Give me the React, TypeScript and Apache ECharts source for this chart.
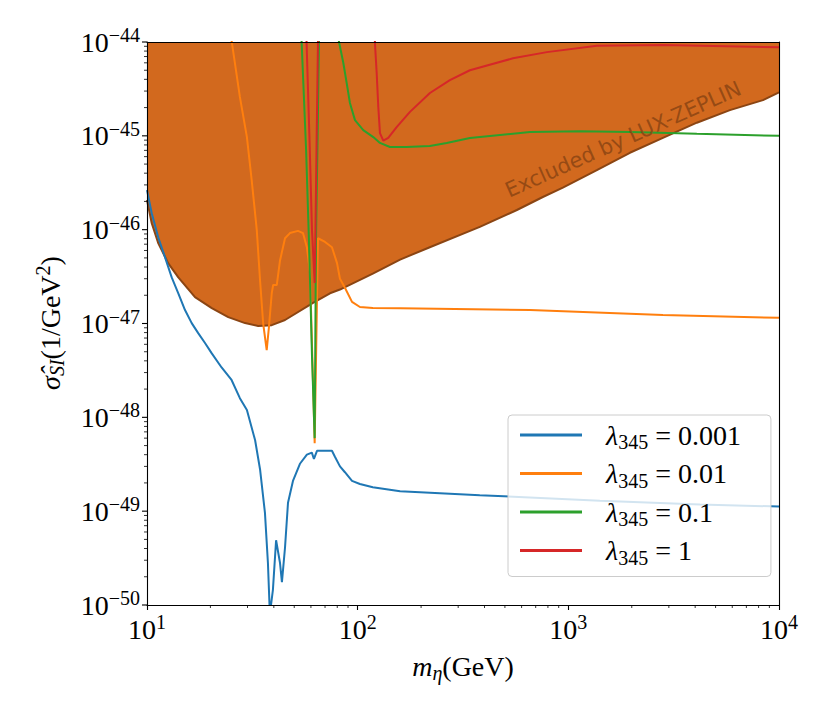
import React, { useEffect, useRef } from 'react';
import * as echarts from 'echarts';

// ---- data ----
const massBlue = [10, 10.53, 11.3, 12.17, 13.1, 14.08, 15.15, 16.3, 17.5, 18.85, 20.3, 22.6, 25.2, 27.6, 29.8, 32.6, 34.4, 36.3, 37.5, 38.3, 39.6, 41.0, 42.8, 43.7, 45.2, 46.7, 49.3, 53.2, 57.4, 60.6, 62.0, 64.1, 75.5, 78.0, 82.4, 87.0, 94.0, 102.5, 118, 159, 380, 1412, 4217, 10000];
const sigmaBlue = [2.64e-46, 1.5e-46, 8.3e-47, 5.1e-47, 3.1e-47, 2.1e-47, 1.39e-47, 1.01e-47, 7.9e-48, 6.2e-48, 4.8e-48, 3.4e-48, 2.5e-48, 1.6e-48, 1.2e-48, 5.7e-49, 2.8e-49, 9.6e-50, 2.8e-50, 8e-51, 1.45e-50, 4.9e-50, 2.8e-50, 1.75e-50, 4.1e-50, 1.23e-49, 2.1e-49, 3.2e-49, 4.0e-49, 4.2e-49, 3.6e-49, 4.4e-49, 4.4e-49, 3.8e-49, 3.0e-49, 2.6e-49, 2.1e-49, 1.95e-49, 1.8e-49, 1.63e-49, 1.48e-49, 1.29e-49, 1.18e-49, 1.12e-49];

const massOrange = [24.5, 25.3, 27.6, 29.8, 31.4, 33.2, 34.4, 35.6, 37.0, 37.9, 39.1, 39.7, 41.3, 42.8, 45.2, 47.7, 52.1, 55.0, 57.4, 59.4, 62.5, 64.8, 70.0, 75.5, 79.8, 82.4, 87.0, 94.0, 102.5, 118, 159, 658, 2812, 10000];
const sigmaOrange = [1.5e-44, 9.8e-45, 2.6e-45, 9.7e-46, 3.38e-46, 9.9e-47, 2.9e-47, 1.0e-47, 5.2e-48, 9.1e-48, 2.1e-47, 2.57e-47, 2.57e-47, 4.7e-47, 8.1e-47, 9.2e-47, 9.7e-47, 9.2e-47, 6.5e-47, 3.5e-47, 5.3e-49, 8.1e-47, 7.4e-47, 6.5e-47, 4.4e-47, 3.0e-47, 2.4e-47, 1.7e-47, 1.5e-47, 1.46e-47, 1.45e-47, 1.39e-47, 1.23e-47, 1.15e-47];

const massGreen = [53.5, 54.2, 56.9, 58.7, 60.7, 62.5, 63.4, 64.5, 65.5, 70, 79.1, 81.8, 85.5, 88.7, 91.9, 97.1, 106.3, 118.6, 127.6, 142.3, 170.8, 220, 264.6, 341, 658, 1135, 1960, 4074, 10000];
const sigmaGreen = [2e-44, 1e-44, 7.2e-46, 7.8e-47, 4.5e-48, 6e-49, 7.8e-47, 9.0e-46, 1e-44, 1e-42, 1.41e-44, 9.7e-45, 5.97e-45, 3.65e-45, 2.24e-45, 1.47e-45, 1.15e-45, 9.7e-46, 8.4e-46, 7.6e-46, 7.6e-46, 7.8e-46, 8.4e-46, 9.5e-46, 1.1e-45, 1.12e-45, 1.1e-45, 1.05e-45, 1.0e-45];

const massRed = [56.5, 57.2, 59.0, 60.7, 62.5, 63.05, 63.9, 64.8, 70, 119.5, 120.8, 123.1, 125.3, 127.6, 132.3, 139.7, 153.1, 177.1, 220.3, 274, 341, 546, 791, 1366, 2812, 10000];
const sigmaRed = [2e-44, 1e-44, 1e-45, 9.9e-47, 2.7e-47, 9.9e-47, 1e-45, 1e-44, 1e-42, 2e-44, 9.7e-45, 4.68e-45, 2.03e-45, 1.07e-45, 8.87e-46, 9.5e-46, 1.24e-45, 1.8e-45, 2.86e-45, 3.93e-45, 5.0e-45, 6.7e-45, 7.8e-45, 9.1e-45, 9.3e-45, 8.8e-45];

const massLZ = [10, 10.53, 11.3, 12.6, 14.08, 16.9, 20.3, 24.3, 29.2, 33.7, 39.1, 45.2, 61.4, 73.9, 82.4, 118, 159, 220, 380, 570, 757, 942, 1366, 1960, 2812, 4074, 5848, 8395, 10000];
const sigmaLZ = [2.07e-46, 1.17e-46, 7.2e-47, 4.4e-47, 3.1e-47, 1.91e-47, 1.46e-47, 1.17e-47, 1.01e-47, 9.4e-48, 9.6e-48, 1.09e-47, 1.66e-47, 2.1e-47, 2.3e-47, 3.4e-47, 4.8e-47, 6.5e-47, 1.07e-46, 1.62e-46, 2.23e-46, 2.8e-46, 4.3e-46, 6.6e-46, 9.5e-46, 1.38e-45, 1.88e-45, 2.4e-45, 2.9e-45];

const lambdaLabels = ['0.001', '0.01', '0.1', '1'];
const seriesColors = ['#1f77b4', '#ff7f0e', '#2ca02c', '#d62728'];
const xMin = 10;
const xMax = 10000;
const yMin = 1e-50;
const yMax = 1e-44;
const xTickValues = [10, 100, 1000, 10000];
const yTickValues = [1e-50, 1e-49, 1e-48, 1e-47, 1e-46, 1e-45, 1e-44];
const minorMultipliers = [2, 3, 4, 5, 6, 7, 8, 9];
const xDecades = [10, 100, 1000];
const yDecades = [1e-50, 1e-49, 1e-48, 1e-47, 1e-46, 1e-45];
const lzLabel = 'Excluded by LUX-ZEPLIN';

const SERIF = "'Liberation Serif', 'DejaVu Serif', serif";

export default function App() {
  const ref = useRef<HTMLDivElement>(null);
  useEffect(() => {
    document.body.style.margin = '0';
    const chart = echarts.init(ref.current as HTMLDivElement, null, { renderer: 'svg' });
    const zip = (xs: number[], ys: number[]) => xs.map((x, i) => [x, ys[i]]);
    const names = lambdaLabels.map((l) => 'λ345 = ' + l);
    const supFmt = (v: number) => {
      const e = Math.round(Math.log10(v));
      return `{b|10}{e|${e < 0 ? '\u2212' : ''}${Math.abs(e)}}`;
    };
    const tickRich = {
      b: { fontSize: 28, fontFamily: SERIF, lineHeight: 34, color: '#000' },
      e: { fontSize: 20, fontFamily: SERIF, verticalAlign: 'top', color: '#000' },
    };
    const tickRichFill = {
      b: { fontSize: 28, fontFamily: SERIF, lineHeight: 34, fill: '#000' },
      e: { fontSize: 20, fontFamily: SERIF, verticalAlign: 'top', fill: '#000' },
    };
    const xMinor: number[][] = [];
    xDecades.forEach((d) => minorMultipliers.forEach((m) => xMinor.push([d * m, yMin])));
    const yMinor: number[][] = [];
    yDecades.forEach((d) => minorMultipliers.forEach((m) => yMinor.push([xMin, d * m])));
    const yMajor = yTickValues.map((v) => [xMin, v]);
    const lzPoints = zip(massLZ, sigmaLZ);

    const lineData = [
      zip(massBlue, sigmaBlue),
      zip(massOrange, sigmaOrange),
      zip(massGreen, sigmaGreen),
      zip(massRed, sigmaRed),
    ];

    const axisLineStyle = { color: '#000', width: 1.1 };

    const option: any = {
      animation: false,
      grid: { left: 147, right: 51, top: 42, bottom: 107, containLabel: false, outerBoundsMode: 'none' },
      xAxis: [
        {
          type: 'log', logBase: 10, min: xMin, max: xMax, splitNumber: 3, z: 10,
          axisLine: { show: true, onZero: false, lineStyle: axisLineStyle },
          axisTick: { show: true, inside: false, length: 5, customValues: xTickValues, lineStyle: { color: '#000', width: 1.1 } },
          minorTick: { show: false },
          splitLine: { show: false },
          axisLabel: { formatter: supFmt, rich: tickRich, margin: 7, customValues: xTickValues },
          name: '{m|m}{sub|η}{t|(GeV)}',
          nameLocation: 'middle',
          nameGap: 44,
          nameTextStyle: {
            rich: {
              m: { fontSize: 28, fontFamily: SERIF, fontStyle: 'italic', lineHeight: 34, color: '#000' },
              sub: { fontSize: 20, fontFamily: SERIF, fontStyle: 'italic', verticalAlign: 'bottom', color: '#000' },
              t: { fontSize: 28, fontFamily: SERIF, lineHeight: 34, color: '#000' },
            },
          },
        },
        {
          type: 'log', logBase: 10, min: xMin, max: xMax, position: 'top', z: 10,
          axisLine: { show: true, onZero: false, lineStyle: axisLineStyle },
          axisTick: { show: false }, axisLabel: { show: false }, splitLine: { show: false },
        },
      ],
      yAxis: [
        {
          type: 'log', logBase: 10, min: yMin, max: yMax, z: 10,
          axisLine: { show: true, onZero: false, lineStyle: axisLineStyle },
          axisTick: { show: false },
          minorTick: { show: false },
          splitLine: { show: false },
          axisLabel: { show: false },
        },
        {
          type: 'log', logBase: 10, min: yMin, max: yMax, position: 'right', z: 10,
          axisLine: { show: true, onZero: false, lineStyle: axisLineStyle },
          axisTick: { show: false }, axisLabel: { show: false }, splitLine: { show: false },
        },
      ],
      legend: {
        data: names,
        orient: 'vertical',
        left: 508,
        top: 415,
        padding: [6, 30, 9, 12],
        itemGap: 7.5,
        itemWidth: 62,
        itemHeight: 3,
        icon: 'rect',
        selectedMode: false,
        backgroundColor: 'rgba(255,255,255,0.8)',
        borderColor: '#cccccc',
        borderWidth: 1,
        borderRadius: 4,
        formatter: (name: string) => {
          const i = names.indexOf(name);
          return `{l|λ}{s|345}{t| = ${lambdaLabels[i]}}`;
        },
        textStyle: {
          rich: {
            l: { fontSize: 28, fontFamily: SERIF, fontStyle: 'italic', lineHeight: 34, color: '#000', padding: [0, 0, 0, 19] },
            s: { fontSize: 20, fontFamily: SERIF, verticalAlign: 'bottom', color: '#000' },
            t: { fontSize: 28, fontFamily: SERIF, lineHeight: 34, color: '#000' },
          },
        },
      },
      graphic: [
        {
          type: 'text',
          x: 623,
          y: 139,
          rotation: (24 * Math.PI) / 180,
          z: 50,
          style: {
            text: lzLabel,
            fontSize: 21,
            fontFamily: "'DejaVu Sans', sans-serif",
            fill: '#8B4513',
            opacity: 0.85,
            align: 'center',
            verticalAlign: 'middle',
          },
        },
        {
          type: 'text',
          x: 50,
          y: 323,
          rotation: Math.PI / 2,
          z: 50,
          style: {
            text: '{s|σ\u0302}{sub|SI}{t|(1/GeV}{sup|2}{t|)}',
            align: 'center',
            verticalAlign: 'middle',
            rich: {
              s: { fontSize: 28, fontFamily: SERIF, fontStyle: 'italic', lineHeight: 34, fill: '#000' },
              sub: { fontSize: 20, fontFamily: SERIF, fontStyle: 'italic', verticalAlign: 'bottom', fill: '#000' },
              sup: { fontSize: 20, fontFamily: SERIF, verticalAlign: 'top', fill: '#000' },
              t: { fontSize: 28, fontFamily: SERIF, lineHeight: 34, fill: '#000' },
            },
          },
        },
      ],
      series: [
        {
          name: 'LZfill',
          type: 'custom',
          silent: true,
          z: 1,
          data: [[xMin, yMax]],
          renderItem: (params: any, api: any) => {
            const pts = lzPoints.map((p) => api.coord(p));
            pts.push(api.coord([xMax, yMax]));
            pts.push(api.coord([xMin, yMax]));
            return { type: 'polygon', shape: { points: pts }, style: { fill: '#D2691E' } };
          },
        },
        {
          name: 'LZ',
          type: 'line',
          data: lzPoints,
          showSymbol: false,
          symbol: 'none',
          lineStyle: { color: '#8B4513', width: 2 },
          z: 2,
          silent: true,
        },
        ...names.map((n, i) => ({
          name: n,
          type: 'line',
          data: lineData[i],
          showSymbol: false,
          symbol: 'none',
          color: seriesColors[i],
          lineStyle: { color: seriesColors[i], width: 2 },
          z: 3 + i,
          silent: true,
        })),
        {
          name: 'xMinor',
          type: 'custom',
          silent: true,
          clip: false,
          z: 20,
          data: xMinor,
          renderItem: (params: any, api: any) => {
            const p = api.coord([api.value(0), api.value(1)]);
            return { type: 'line', shape: { x1: p[0], y1: p[1], x2: p[0], y2: p[1] + 3 }, style: { stroke: '#000', lineWidth: 0.8 } };
          },
        },
        {
          name: 'yMinor',
          type: 'custom',
          silent: true,
          clip: false,
          z: 20,
          data: yMinor,
          renderItem: (params: any, api: any) => {
            const p = api.coord([api.value(0), api.value(1)]);
            return { type: 'line', shape: { x1: p[0] - 3, y1: p[1], x2: p[0], y2: p[1] }, style: { stroke: '#000', lineWidth: 0.8 } };
          },
        },
        {
          name: 'yMajor',
          type: 'custom',
          silent: true,
          clip: false,
          z: 20,
          data: yMajor,
          renderItem: (params: any, api: any) => {
            const v = api.value(1);
            const p = api.coord([api.value(0), v]);
            return {
              type: 'group',
              children: [
                { type: 'line', shape: { x1: p[0] - 5, y1: p[1], x2: p[0], y2: p[1] }, style: { stroke: '#000', lineWidth: 1.1 } },
                {
                  type: 'text',
                  x: p[0] - 7,
                  y: p[1],
                  style: { text: supFmt(v), rich: tickRichFill, align: 'right', verticalAlign: 'middle', fill: '#000' },
                },
              ],
            };
          },
        },
      ],
    };
    chart.setOption(option);
    return () => chart.dispose();
  }, []);
  return <div ref={ref} style={{ width: 830, height: 712 }} />;
}
